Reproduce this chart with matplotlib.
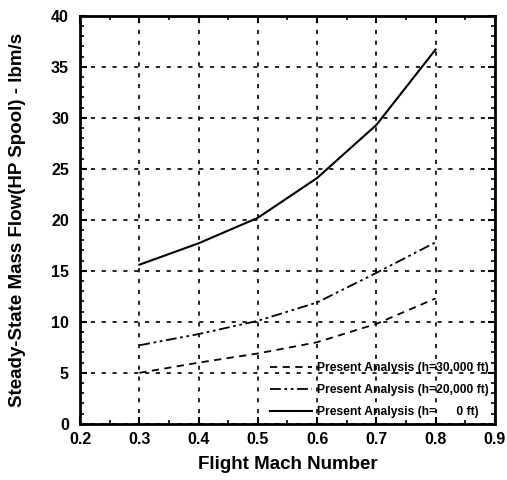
import matplotlib
matplotlib.use("Agg")
import matplotlib.pyplot as plt
from matplotlib.ticker import MultipleLocator

mach = [0.3, 0.4, 0.5, 0.6, 0.7, 0.8]
flow_30k = [5.0, 6.0, 6.9, 8.0, 9.8, 12.3]
flow_20k = [7.7, 8.8, 10.1, 11.9, 14.8, 17.8]
flow_0 = [15.6, 17.7, 20.2, 24.1, 29.3, 36.7]
labels = ["Present Analysis (h=30,000 ft)",
          "Present Analysis (h=20,000 ft)",
          "Present Analysis (h=      0 ft)"]
xtick_vals = [0.2, 0.3, 0.4, 0.5, 0.6, 0.7, 0.8, 0.9]
xtick_labels = ['0.2', '0.3', '0.4', '0.5', '0.6', '0.7', '0.8', '0.9']

plt.rcParams['font.family'] = ['Liberation Sans', 'DejaVu Sans']
fig = plt.figure(figsize=(5.07, 4.80), dpi=100)
ax = fig.add_axes([0.158, 0.117, 0.818, 0.850])

ax.plot(mach, flow_30k, color='black', lw=1.3, ls=(0, (4, 3)), label=labels[0])
ax.plot(mach, flow_20k, color='black', lw=1.3, ls=(0, (6, 2, 1.5, 2, 1.5, 2)), label=labels[1])
ax.plot(mach, flow_0, color='black', lw=1.5, ls='-', label=labels[2])

ax.set_xlim(0.2, 0.9)
ax.set_ylim(0, 40)
ax.xaxis.set_minor_locator(MultipleLocator(0.05))
ax.yaxis.set_major_locator(MultipleLocator(5))
ax.yaxis.set_minor_locator(MultipleLocator(1))
ax.set_xticks(xtick_vals)
ax.set_xticklabels(xtick_labels)
ax.tick_params(which='both', direction='in', top=True, right=True)
ax.tick_params(which='major', length=5, width=1.5, labelsize=11.5)
ax.tick_params(axis='y', which='major', pad=8)
ax.tick_params(axis='x', which='major', pad=6)
ax.tick_params(which='minor', length=3, width=1.2)
for lab in ax.get_xticklabels() + ax.get_yticklabels():
    lab.set_fontweight('bold')

ax.grid(True, which='major', color='black', ls=(0, (2.5, 4)), lw=1.2)
for s in ax.spines.values():
    s.set_linewidth(2)

ax.set_xlabel('Flight Mach Number', fontsize=13.5, fontweight='bold', labelpad=6)
ax.set_ylabel('Steady-State Mass Flow(HP Spool) - lbm/s', fontsize=13.5,
              fontweight='bold', labelpad=18)

leg = ax.legend(loc='lower right', frameon=False, fontsize=8.7, handlelength=3.5,
                borderaxespad=0.1, labelspacing=0.8, handletextpad=0.4)
for t in leg.get_texts():
    t.set_fontweight('bold')

fig.savefig('out.png', dpi=100)
